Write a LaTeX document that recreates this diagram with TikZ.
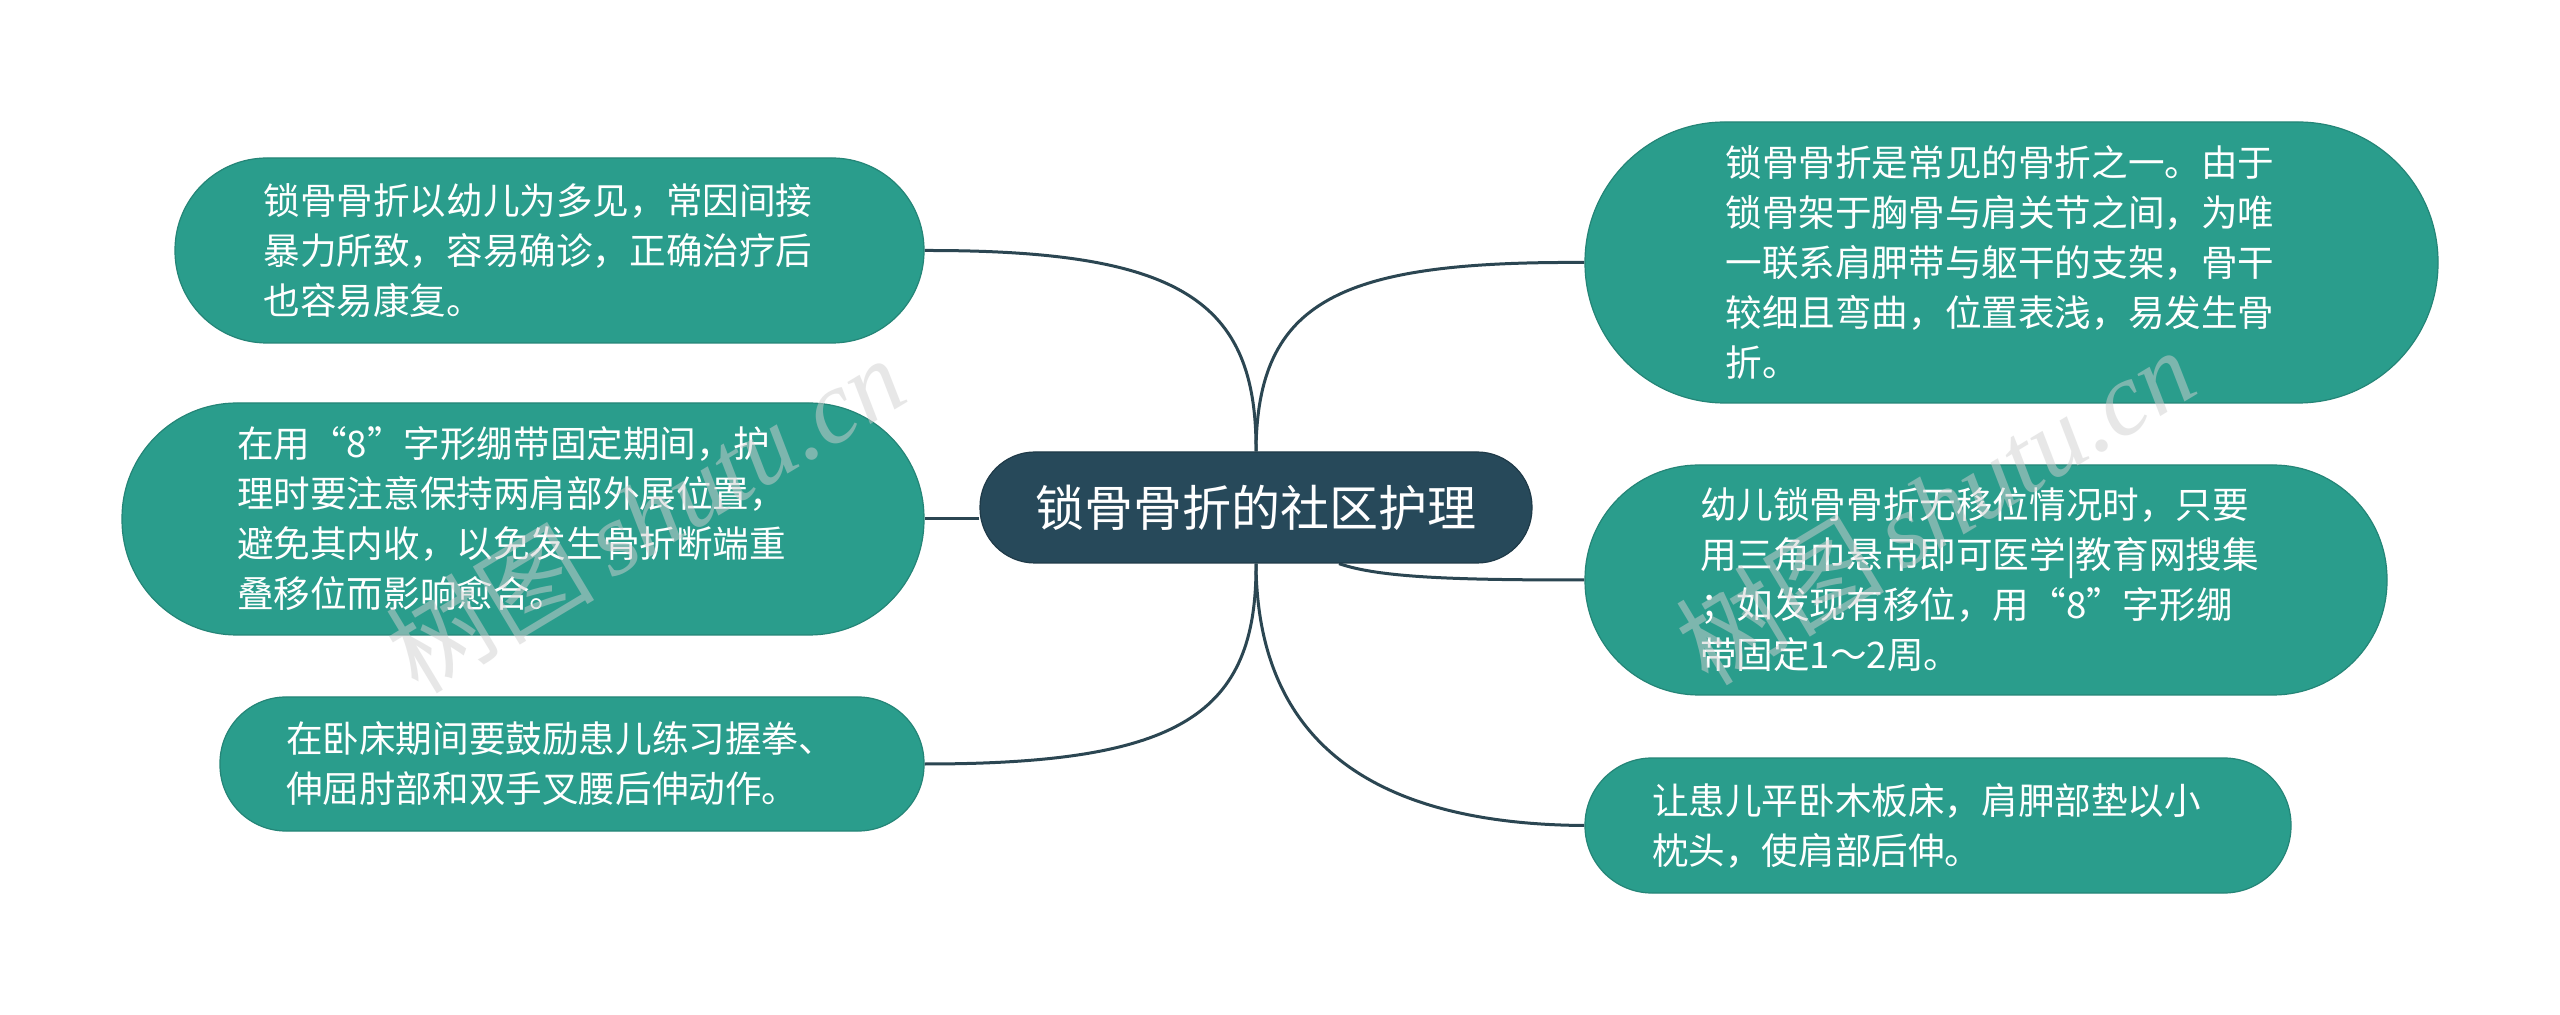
\documentclass[tikz,border=0pt]{standalone}
\usepackage{fontspec}
\setmainfont{Noto Sans CJK SC}
\newfontfamily\wmlatin{Liberation Serif}
\usetikzlibrary{calc}
\pgfdeclarelayer{bg}
\pgfsetlayers{bg,main}
\definecolor{leafc}{HTML}{2A9D8C}
\definecolor{rootc}{HTML}{27495A}
\definecolor{linec}{HTML}{2B4652}
\definecolor{wmc}{HTML}{D0D0D0}
\tikzset{
  leaf/.style={fill=leafc, draw=leafc!85!black, line width=0.6pt, text=white,
    font=\fontsize{18.3}{25}\selectfont, align=left, text width=286pt,
    inner xsep=0pt, inner ysep=0pt},
  root/.style={fill=rootc, draw=rootc!80!black, line width=0.6pt, text=white,
    font=\fontsize{24.5}{30}\selectfont, minimum width=276pt, minimum height=55.5pt,
    rounded corners=27.5pt, inner sep=0pt},
  conn/.style={draw=linec, line width=1.5pt},
  wm/.style={text=wmc, opacity=0.5, rotate=31, font=\fontsize{52}{60}\selectfont}
}
\begin{document}
\begin{tikzpicture}[x=0.5pt,y=-0.5pt]
\useasboundingbox (0,0) rectangle (2560,1015);
\begin{pgfonlayer}{bg}
\fill[white] (0,0) rectangle (2560,1015);
\end{pgfonlayer}

\node[root] (c) at (1256,507.5) {锁骨骨折的社区护理};

\node[leaf, minimum width=374.5pt, minimum height=92.5pt, rounded corners=46pt] (l1) at (549.5,250.5)
  {锁骨骨折以幼儿为多见，常因间接\\暴力所致，容易确诊，正确治疗后\\也容易康复。};
\node[leaf, minimum width=401pt, minimum height=116pt, rounded corners=57.5pt] (l2) at (523,519)
  {在用“8”字形绷带固定期间，护\\理时要注意保持两肩部外展位置，\\避免其内收，以免发生骨折断端重\\叠移位而影响愈合。};
\node[leaf, minimum width=352pt, minimum height=67pt, rounded corners=33pt] (l3) at (572,764)
  {在卧床期间要鼓励患儿练习握拳、\\伸屈肘部和双手叉腰后伸动作。};

\node[leaf, minimum width=426.5pt, minimum height=140.5pt, rounded corners=70pt] (r1) at (2011.5,262.5)
  {锁骨骨折是常见的骨折之一。由于\\锁骨架于胸骨与肩关节之间，为唯\\一联系肩胛带与躯干的支架，骨干\\较细且弯曲，位置表浅，易发生骨\\折。};
\node[leaf, minimum width=401pt, minimum height=115pt, rounded corners=57pt] (r2) at (1986,580)
  {幼儿锁骨骨折无移位情况时，只要\\用三角巾悬吊即可医学|教育网搜集\\；如发现有移位，用“8”字形绷\\带固定1～2周。};
\node[leaf, minimum width=353pt, minimum height=67.5pt, rounded corners=33.5pt] (r3) at (1938,825.5)
  {让患儿平卧木板床，肩胛部垫以小\\枕头，使肩部后伸。};

\begin{pgfonlayer}{bg}
\draw[conn] (c.north) .. controls (1257,300) and (1180,250) .. (l1.east);
\draw[conn] (c.west |- l2.east) -- (l2.east);
\draw[conn] (c.south) .. controls (1257,715) and (1180,764) .. (l3.east);
\draw[conn] (c.north) .. controls (1257,300) and (1340,261) .. (r1.west);
\coordinate (cs) at ($(c.south)+(83,0)$);
\draw[conn] (cs) .. controls (1380,578) and (1460,580) .. (r2.west);
\draw[conn] (c.south) .. controls (1257,715) and (1340,824) .. (r3.west);
\end{pgfonlayer}

% watermarks
\node[wm] (wm1) at (645,514) {树图\,{\wmlatin\itshape shutu.cn}};
\node[wm] (wm2) at (1935,506) {树图\,{\wmlatin\itshape shutu.cn}};
\end{tikzpicture}
\end{document}
